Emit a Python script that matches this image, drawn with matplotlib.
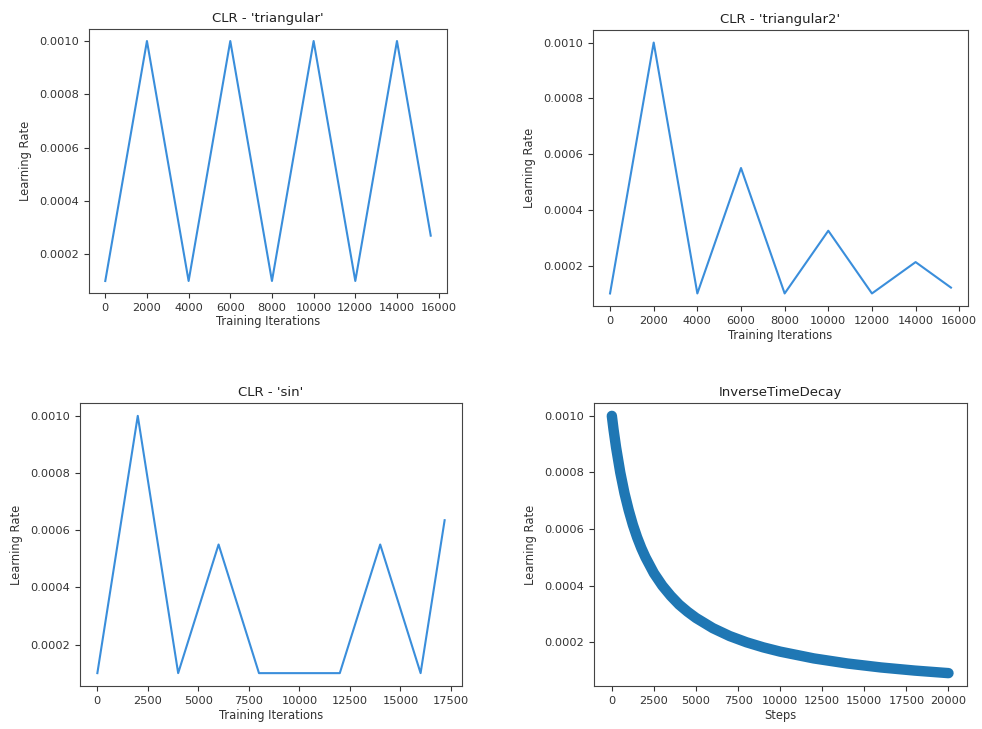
import matplotlib
matplotlib.use("Agg")
import matplotlib.pyplot as plt

# ---- data ----
tri_x = [0, 2000, 4000, 6000, 8000, 10000, 12000, 14000, 15620]
tri_y = [1e-4, 1e-3, 1e-4, 1e-3, 1e-4, 1e-3, 1e-4, 1e-3, 2.7e-4]

tri2_x = [0, 2000, 4000, 6000, 8000, 10000, 12000, 14000, 15620]
tri2_y = [1e-4, 1e-3, 1e-4, 5.5e-4, 1e-4, 3.25e-4, 1e-4, 2.125e-4, 1.21e-4]

sin_x = [0, 2000, 4000, 6000, 8000, 12000, 14000, 16000, 17190]
sin_y = [1e-4, 1e-3, 1e-4, 5.5e-4, 1e-4, 1e-4, 5.5e-4, 1e-4, 6.35e-4]

itd_x = [0, 100, 250, 500, 750, 1000, 1250, 1500, 1750, 2000, 2500, 3000, 3500,
         4000, 4500, 5000, 6000, 7000, 8000, 9000, 10000, 12000, 14000, 16000,
         18000, 20000]
itd_y = [1.000e-3, 0.952e-3, 0.889e-3, 0.800e-3, 0.727e-3, 0.667e-3, 0.615e-3,
         0.571e-3, 0.533e-3, 0.500e-3, 0.444e-3, 0.400e-3, 0.364e-3, 0.333e-3,
         0.308e-3, 0.286e-3, 0.250e-3, 0.222e-3, 0.200e-3, 0.182e-3, 0.167e-3,
         0.143e-3, 0.125e-3, 0.111e-3, 0.100e-3, 0.091e-3]

titles = ["CLR - 'triangular'", "CLR - 'triangular2'", "CLR - 'sin'", "InverseTimeDecay"]
xlabels = ["Training Iterations", "Training Iterations", "Training Iterations", "Steps"]
ylabel = "Learning Rate"

plt.rcParams['font.family'] = ['DejaVu Sans']
fig = plt.figure(figsize=(9.82, 7.29), dpi=100)

W, H = 982, 729
def box(l, r, t, b):
    return [l / W, 1 - b / H, (r - l) / W, (b - t) / H]

axes = [
    fig.add_axes(box(89, 447, 29, 293)),
    fig.add_axes(box(593, 968, 30, 306)),
    fig.add_axes(box(80, 462, 403, 686)),
    fig.add_axes(box(594, 967, 403, 686)),
]

line_color = '#3a8edb'
axes[0].plot(tri_x, tri_y, color=line_color, lw=1.5)
axes[1].plot(tri2_x, tri2_y, color=line_color, lw=1.5)
axes[2].plot(sin_x, sin_y, color=line_color, lw=1.5)
axes[3].plot(itd_x, itd_y, color='#1f77b4', lw=7.5, solid_capstyle='round',
             solid_joinstyle='round')

for ax, t, xl in zip(axes, titles, xlabels):
    ax.set_title(t, fontsize=9.5, pad=5, color='#222222')
    ax.set_xlabel(xl, fontsize=8.3, labelpad=2, color='#333333')
    ax.set_ylabel(ylabel, fontsize=8.3, labelpad=5, color='#333333')
    ax.tick_params(labelsize=8.2, colors='#333333', length=3.5)
    for s in ax.spines.values():
        s.set_color('#444444')

axes[3].set_xticks([0, 2500, 5000, 7500, 10000, 12500, 15000, 17500, 20000])
axes[3].set_xlim(-1060, 21100)

fig.savefig("out.png", dpi=100)
